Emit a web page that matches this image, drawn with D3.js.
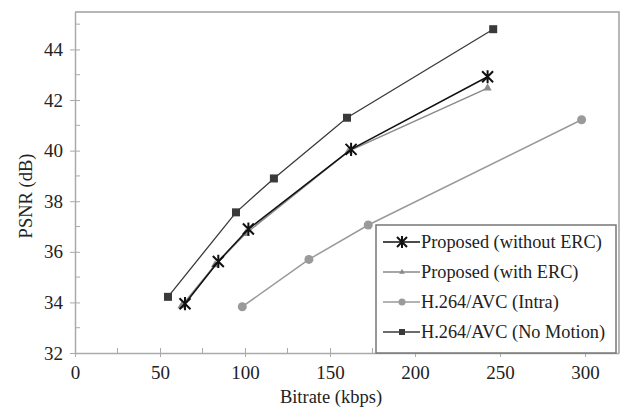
<!DOCTYPE html>
<html>
<head>
<meta charset="utf-8">
<script src="https://cdn.jsdelivr.net/npm/d3@7"></script>
<style>
  body { margin: 0; background: #fff; }
  svg text { font-family: "Liberation Serif", Tinos, "Times New Roman", "DejaVu Serif", serif; fill: #222; }
</style>
</head>
<body>
<div id="chart"></div>
<script>
// data
const noERC = [[64.7, 33.95], [84.3, 35.62], [102, 36.9], [162.4, 40.05], [242.7, 42.92]];
const withERC = [[62.7, 33.86], [82.4, 35.48], [100.4, 36.72], [161, 39.98], [242.7, 42.47]];
const intra = [[98.4, 33.83], [137.6, 35.7], [172.5, 37.06], [298, 41.22]];
const noMotion = [[54.7, 34.22], [94.7, 37.56], [117, 38.9], [160, 41.3], [246, 44.8]];
const xTicks = [0, 50, 100, 150, 200, 250, 300];
const yTicks = [32, 34, 36, 38, 40, 42, 44];
const seriesNames = ["Proposed (without ERC)", "Proposed (with ERC)", "H.264/AVC (Intra)", "H.264/AVC (No Motion)"];

const serif = '"Liberation Serif", Tinos, "Times New Roman", "DejaVu Serif", serif';
const width = 622, height = 410;
const margin = { top: 12, right: 3, bottom: 57, left: 75 };
const innerWidth = width - margin.left - margin.right;
const innerHeight = height - margin.top - margin.bottom;

const svg = d3.select("#chart").append("svg")
    .attr("width", width)
    .attr("height", height)
    .attr("font-family", serif);

const x = d3.scaleLinear().domain([0, 320]).range([0, innerWidth]);
const y = d3.scaleLinear().domain([32, 45.48]).range([innerHeight, 0]);

const g = svg.append("g")
    .attr("transform", `translate(${margin.left},${margin.top})`);

// frame on top and right
g.append("path")
    .attr("d", `M0,0H${innerWidth}V${innerHeight}`)
    .attr("fill", "none")
    .attr("stroke", "#a0a0a0")
    .attr("stroke-width", 1.5);

// minor ticks
g.append("g").selectAll("line")
    .data(d3.range(25, 320, 50))
    .join("line")
    .attr("x1", d => x(d)).attr("x2", d => x(d))
    .attr("y1", innerHeight).attr("y2", innerHeight - 5)
    .attr("stroke", "#aaa");
g.append("g").selectAll("line")
    .data(d3.range(33, 46, 2))
    .join("line")
    .attr("y1", d => y(d)).attr("y2", d => y(d))
    .attr("x1", 0).attr("x2", 5)
    .attr("stroke", "#aaa");

// X axis
const xAxis = g.append("g")
    .attr("transform", `translate(0,${innerHeight})`)
    .call(d3.axisBottom(x).tickValues(xTicks).tickSize(4).tickPadding(9).tickSizeOuter(0));
xAxis.attr("font-family", serif);
xAxis.selectAll(".tick line").attr("y1", -5).attr("stroke", "#aaa");
xAxis.select(".domain").attr("stroke", "#aaa").attr("stroke-width", 1.5);
xAxis.selectAll("text").attr("font-size", 19).attr("fill", "#222");

// Y axis
const yAxis = g.append("g")
    .call(d3.axisLeft(y).tickValues(yTicks).tickSize(5).tickPadding(7).tickSizeOuter(0));
yAxis.attr("font-family", serif);
yAxis.selectAll(".tick line").attr("x1", 5).attr("stroke", "#aaa");
yAxis.select(".domain").attr("stroke", "#aaa").attr("stroke-width", 1.5);
yAxis.selectAll("text").attr("font-size", 19).attr("fill", "#222");

// axis titles
svg.append("text")
    .attr("x", 331).attr("y", 403)
    .attr("text-anchor", "middle")
    .attr("font-size", 18.5)
    .text("Bitrate (kbps)");
svg.append("text")
    .attr("transform", "translate(32,196) rotate(-90)")
    .attr("text-anchor", "middle")
    .attr("font-size", 18.5)
    .text("PSNR (dB)");

// marker drawing
function star(s) {
    const h = s / 2, v = s * 0.6;
    return `M${-h},${-h}L${h},${h}M${-h},${h}L${h},${-h}M0,${-v}L0,${v}`;
}
function drawMarker(sel, type) {
    if (type === "star") {
        sel.append("path").attr("d", star(11)).attr("stroke", "#111").attr("stroke-width", 2).attr("fill", "none");
    } else if (type === "tri") {
        sel.append("path").attr("d", d3.symbol(d3.symbolTriangle, 30)()).attr("fill", "#8a8a8a");
    } else if (type === "circle") {
        sel.append("circle").attr("r", 4.5).attr("fill", "#9a9a9a");
    } else {
        sel.append("rect").attr("x", -4).attr("y", -4).attr("width", 8).attr("height", 8).attr("fill", "#3a3a3a");
    }
}

const series = [
    { name: seriesNames[0], data: noERC, color: "#111", width: 1.5, type: "star" },
    { name: seriesNames[1], data: withERC, color: "#8a8a8a", width: 1.5, type: "tri" },
    { name: seriesNames[2], data: intra, color: "#9a9a9a", width: 1.5, type: "circle" },
    { name: seriesNames[3], data: noMotion, color: "#3a3a3a", width: 1.3, type: "square" }
];
const drawOrder = [series[2], series[3], series[1], series[0]];

const line = d3.line().x(d => x(d[0])).y(d => y(d[1]));

drawOrder.forEach(s => {
    g.append("path")
        .datum(s.data)
        .attr("fill", "none")
        .attr("stroke", s.color)
        .attr("stroke-width", s.width)
        .attr("d", line);
    g.append("g").selectAll("g")
        .data(s.data)
        .join("g")
        .attr("transform", d => `translate(${x(d[0])},${y(d[1])})`)
        .each(function () { drawMarker(d3.select(this), s.type); });
});

// legend
const legend = svg.append("g").attr("transform", "translate(376,225)");
legend.append("rect")
    .attr("width", 240).attr("height", 128)
    .attr("fill", "#fff")
    .attr("stroke", "#777")
    .attr("stroke-width", 1.5);
series.forEach((s, i) => {
    const row = legend.append("g").attr("transform", `translate(0,${17 + i * 30})`);
    row.append("line")
        .attr("x1", 7).attr("x2", 44)
        .attr("stroke", s.color).attr("stroke-width", s.width);
    const m = row.append("g").attr("transform", "translate(26,0)");
    if (s.type === "star") {
        m.append("path").attr("d", star(10)).attr("stroke", "#111").attr("stroke-width", 2).attr("fill", "none");
    } else if (s.type === "tri") {
        m.append("path").attr("d", d3.symbol(d3.symbolTriangle, 14)()).attr("fill", s.color);
    } else if (s.type === "circle") {
        m.append("circle").attr("r", 3.5).attr("fill", s.color);
    } else {
        m.append("rect").attr("x", -3).attr("y", -3).attr("width", 6).attr("height", 6).attr("fill", s.color);
    }
    row.append("text")
        .attr("x", 45).attr("y", 6)
        .attr("font-size", 18.3)
        .text(s.name);
});
</script>
</body>
</html>
